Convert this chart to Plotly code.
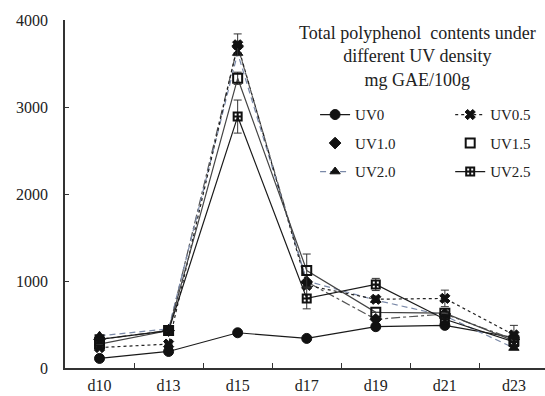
import plotly.graph_objects as go

# Sampling days
days = ["d10", "d13", "d15", "d17", "d19", "d21", "d23"]

# Total polyphenol contents (mg GAE/100g) for each UV density
uv0 = [110, 190, 405, 340, 475, 490, 350]
uv05 = [235, 275, 3715, 950, 790, 800, 380]
uv10 = [330, 430, 3700, 990, 560, 620, 330]
uv15 = [275, 430, 3330, 1120, 640, 630, 310]
uv20 = [370, 450, 3620, 1000, 780, 600, 230]
uv25 = [330, 430, 2890, 800, 960, 560, 300]

# Standard deviations shown as error bars
err0 = [0, 0, 0, 0, 0, 0, 0]
err05 = [0, 0, 125, 0, 0, 95, 110]
err10 = [0, 0, 0, 0, 0, 0, 0]
err15 = [0, 0, 70, 190, 0, 0, 0]
err20 = [0, 0, 0, 0, 0, 0, 0]
err25 = [0, 0, 190, 120, 70, 0, 0]

FONT = "Liberation Serif"

series = [
    # name, values, errors, line color, marker color, dash, symbol, size, legend, line in legend
    ("UV0", uv0, err0, "#1a1a1a", "#111111", "solid", "circle", 10, "legend", True),
    ("UV1.0", uv10, err10, "#555555", "#111111", "dashdot", "diamond", 9, "legend", False),
    ("UV2.0", uv20, err20, "#7a89a8", "#111111", "6px,4px", "triangle-up", 9, "legend", True),
    ("UV0.5", uv05, err05, "#222222", "#111111", "3px,3px", "x", 9, "legend2", True),
    ("UV1.5", uv15, err15, "#444444", "#111111", "solid", "square-open", 9, "legend2", False),
    ("UV2.5", uv25, err25, "#1a1a1a", "#111111", "solid", "square-cross-open", 8, "legend2", True),
]

fig = go.Figure()

for name, vals, errs, color, mcolor, dash, symbol, size, leg, legline in series:
    open_marker = symbol.endswith("open")
    marker = dict(symbol=symbol, size=size, color=mcolor,
                  line=dict(color=mcolor, width=2 if open_marker else 1))
    fig.add_trace(go.Scatter(
        x=days, y=vals, mode="lines+markers", name=name,
        line=dict(color=color, width=1.2, dash=dash),
        marker=marker,
        error_y=dict(type="data", array=errs, visible=True,
                     color="#333333", thickness=1, width=4),
        showlegend=legline, legend=leg, legendgroup=name,
    ))
    if not legline:
        # legend entry showing the marker only
        fig.add_trace(go.Scatter(
            x=[None], y=[None], mode="markers", name=name,
            marker=marker, showlegend=True, legend=leg, legendgroup=name,
        ))

legend_common = dict(
    font=dict(family=FONT, size=15, color="#222222"),
    bgcolor="rgba(0,0,0,0)", borderwidth=0,
    orientation="v", tracegroupgap=6,
    xanchor="left", yanchor="top", traceorder="grouped",
)

fig.update_layout(
    width=545, height=396,
    margin=dict(l=65, r=0, t=20, b=28, autoexpand=False),
    paper_bgcolor="white", plot_bgcolor="white",
    font=dict(family=FONT, size=15, color="#222222"),
    legend=dict(x=0.521, y=0.775, **legend_common),
    legend2=dict(x=0.8025, y=0.775, **legend_common),
    annotations=[dict(
        text="Total polyphenol  contents under<br>different UV density<br>mg GAE/100g",
        x=0.735, y=0.998, xref="paper", yref="paper",
        xanchor="center", yanchor="top", showarrow=False, align="center",
        font=dict(family=FONT, size=18, color="#222222"),
    )],
    xaxis=dict(
        type="category", range=[-0.5, 6.45],
        showline=True, linecolor="#333333", linewidth=1.5,
        ticks="inside", tickson="boundaries", ticklen=5, tickcolor="#333333",
        showgrid=False, zeroline=False,
        tickfont=dict(family=FONT, size=16, color="#222222"),
        ticklabelstandoff=2,
    ),
    yaxis=dict(
        range=[0, 4000], tickvals=[0, 1000, 2000, 3000, 4000],
        showline=True, linecolor="#333333", linewidth=1.5,
        ticks="inside", ticklen=4, tickcolor="#333333",
        showgrid=False, zeroline=False,
        tickfont=dict(family=FONT, size=16, color="#222222"),
        ticklabelstandoff=12,
    ),
)

fig.write_html("out.html")
